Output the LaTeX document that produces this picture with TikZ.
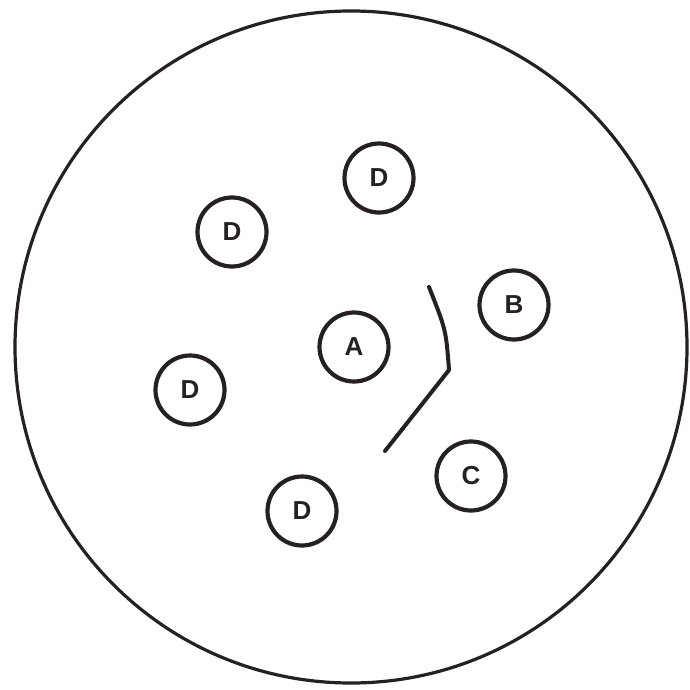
\documentclass[tikz,border=0pt]{standalone}
\usepackage{fontspec}
\setmainfont{Liberation Sans}
\definecolor{ink}{RGB}{38,33,33}
\begin{document}
\begin{tikzpicture}[x=1pt,y=-1pt,
  cell/.style={draw=ink, circle, line width=4.2pt, minimum size=69pt, inner sep=0pt,
    text=ink, font=\fontsize{26}{26}\selectfont\bfseries},
  dish/.style={draw=ink, circle, line width=3.2pt, minimum size=672pt, inner sep=0pt},
  wall/.style={draw=ink, line width=4pt, line cap=round, line join=round}]
\useasboundingbox (0,0) rectangle (690,690);
\fill[white] (0,0) rectangle (690,690);
\node[dish] (outer) at (351,347) {};
\node[cell] (d1) at (379,178) {D};
\node[cell] (d2) at (232,232) {D};
\node[cell] (a) at (354,347) {A};
\node[cell] (b) at (514,305) {B};
\node[cell] (d3) at (190,390) {D};
\node[cell] (c) at (471,476) {C};
\node[cell] (d4) at (302,511) {D};
\coordinate (w1) at (429,287);
\coordinate (w2) at (449,370);
\coordinate (w3) at (385,451);
\draw[wall] (w1) .. controls (446,330) .. (w2) -- (w3);
\end{tikzpicture}
\end{document}
